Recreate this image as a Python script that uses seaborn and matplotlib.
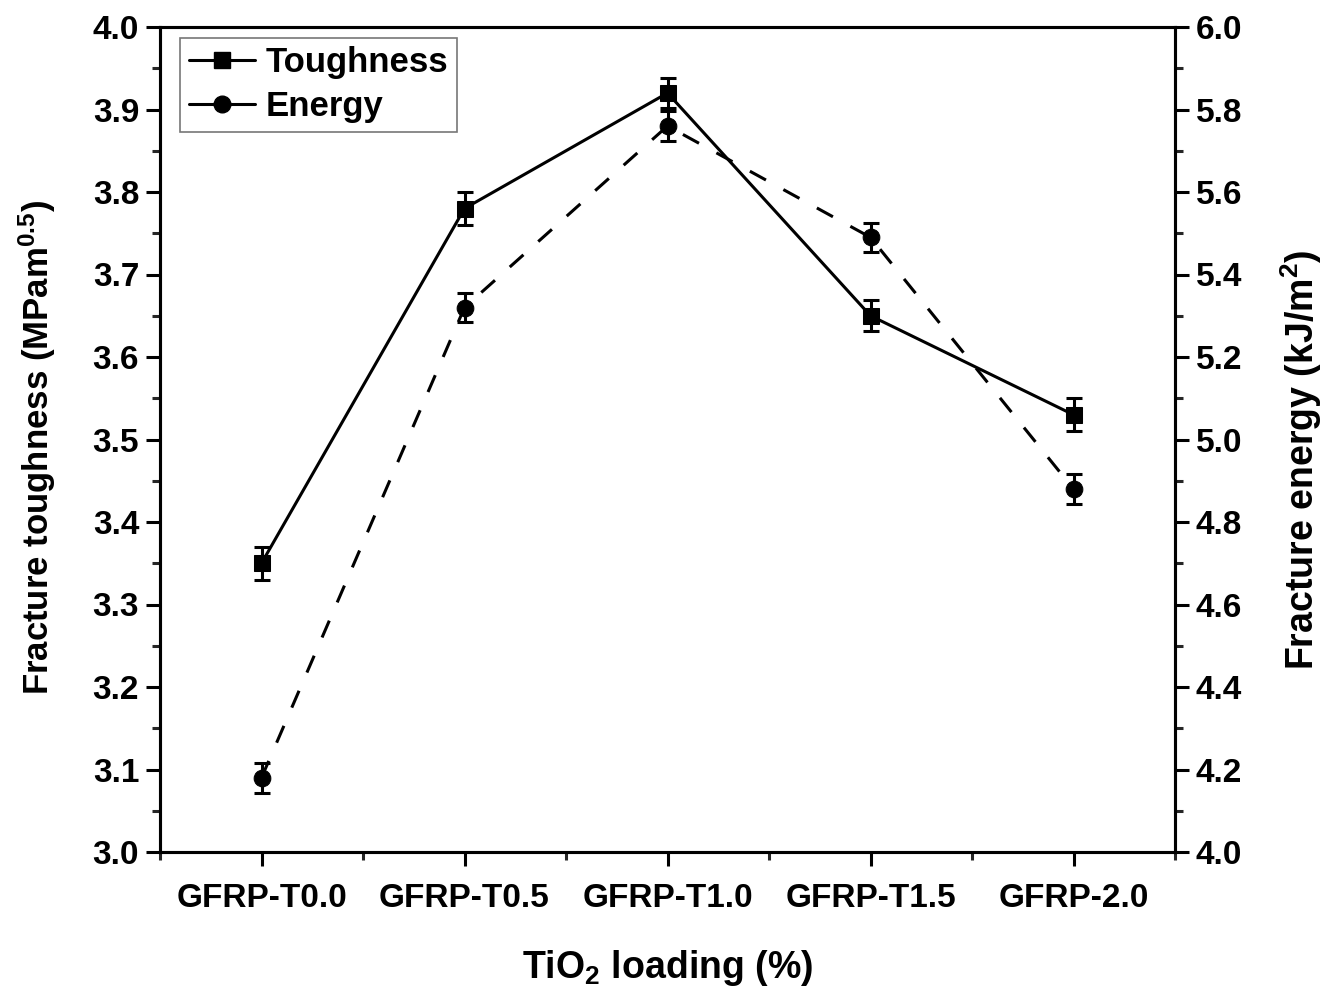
import numpy as np
import pandas as pd
import seaborn as sns
import matplotlib
matplotlib.use("Agg")
import matplotlib.pyplot as plt
from matplotlib.ticker import MultipleLocator, FixedLocator
from matplotlib.lines import Line2D

# Data
samples = ["GFRP-T0.0", "GFRP-T0.5", "GFRP-T1.0", "GFRP-T1.5", "GFRP-2.0"]
toughness = [3.35, 3.78, 3.92, 3.65, 3.53]
toughness_err = [0.02, 0.02, 0.018, 0.019, 0.02]
energy = [4.18, 5.32, 5.76, 5.49, 4.88]
energy_err = [0.036, 0.036, 0.036, 0.036, 0.036]

sns.set_theme(style="ticks")
plt.rcParams["font.family"] = ["Liberation Sans", "DejaVu Sans"]
plt.rcParams["font.weight"] = "bold"
plt.rcParams["text.color"] = "black"
plt.rcParams["axes.labelcolor"] = "black"
plt.rcParams["mathtext.fontset"] = "custom"
plt.rcParams["mathtext.rm"] = "Liberation Sans:bold"
plt.rcParams["mathtext.bf"] = "Liberation Sans:bold"
plt.rcParams["mathtext.default"] = "bf"

fig = plt.figure(figsize=(13.39, 9.94), dpi=100)
ax = fig.add_axes([160 / 1339, 1 - 852 / 994, (1175 - 160) / 1339, (852 - 27) / 994])
ax2 = ax.twinx()

df = pd.DataFrame({"sample": samples, "toughness": toughness, "energy": energy})
xpos = np.arange(len(samples))

lw = 2.2
sns.lineplot(x=xpos, y=df["toughness"], ax=ax, color="black", linewidth=lw,
             marker="s", markersize=11, markeredgecolor="black", legend=False)
ax.errorbar(xpos, toughness, yerr=toughness_err, fmt="none", ecolor="black",
            elinewidth=2.2, capsize=6, capthick=2.2)

sns.lineplot(x=xpos, y=df["energy"], ax=ax2, color="black", linewidth=lw,
             marker="o", markersize=12, markeredgecolor="black", legend=False)
ax2.lines[0].set_dashes([6, 6.5])
ax2.errorbar(xpos, energy, yerr=energy_err, fmt="none", ecolor="black",
             elinewidth=2.2, capsize=6, capthick=2.2)

ax.set_xlim(-0.5, 4.5)
ax.set_ylim(3.0, 4.0)
ax2.set_ylim(4.0, 6.0)

ax.set_xticks(xpos)
ax.set_xticklabels(samples)
ax.xaxis.set_minor_locator(FixedLocator(np.arange(-0.5, 4.6, 1.0)))
ax.yaxis.set_major_locator(MultipleLocator(0.1))
ax.yaxis.set_minor_locator(MultipleLocator(0.05))
ax2.yaxis.set_major_locator(MultipleLocator(0.2))
ax2.yaxis.set_minor_locator(MultipleLocator(0.1))
ax.yaxis.set_major_formatter(plt.FormatStrFormatter("%.1f"))
ax2.yaxis.set_major_formatter(plt.FormatStrFormatter("%.1f"))

for a in (ax, ax2):
    for s in a.spines.values():
        s.set_linewidth(2.2)
        s.set_color("black")
    a.tick_params(which="major", length=10, width=2.2, direction="out",
                  labelsize=24, colors="black", pad=5)
    a.tick_params(which="minor", length=6, width=2.2, direction="out")
    for lab in a.get_yticklabels() + a.get_xticklabels():
        lab.set_fontweight("bold")
ax.tick_params(axis="x", which="both", top=False)
ax.tick_params(axis="x", pad=12)
ax2.tick_params(axis="y", which="both", left=False, right=True)

ax.set_xlabel("TiO$_2$ loading (%)", fontsize=27, fontweight="bold",
              color="black", labelpad=25)
ax.set_ylabel("Fracture toughness (MPam$^{0.5}$)", fontsize=25, fontweight="bold",
              color="black", labelpad=25)
ax2.set_ylabel("Fracture energy (kJ/m$^2$)", fontsize=27, fontweight="bold",
               color="black", rotation=90, labelpad=26)
ax.yaxis.label.set_y(0.49)
ax2.yaxis.label.set_y(0.475)

handles = [
    Line2D([], [], color="black", linewidth=lw, marker="s", markersize=11),
    Line2D([], [], color="black", linewidth=lw, marker="o", markersize=12),
]
leg = ax.legend(handles, ["Toughness", "Energy"], loc="upper left",
                bbox_to_anchor=(0.02, 0.987), frameon=True, fancybox=False,
                edgecolor="#555555", handlelength=1.9, handletextpad=0.3,
                borderpad=0.25, labelspacing=0.3, borderaxespad=0.0,
                prop={"size": 25, "weight": "bold"})
leg.get_frame().set_linewidth(1.2)
for t in leg.get_texts():
    t.set_color("black")

fig.savefig("out.png", dpi=100, facecolor="white")
